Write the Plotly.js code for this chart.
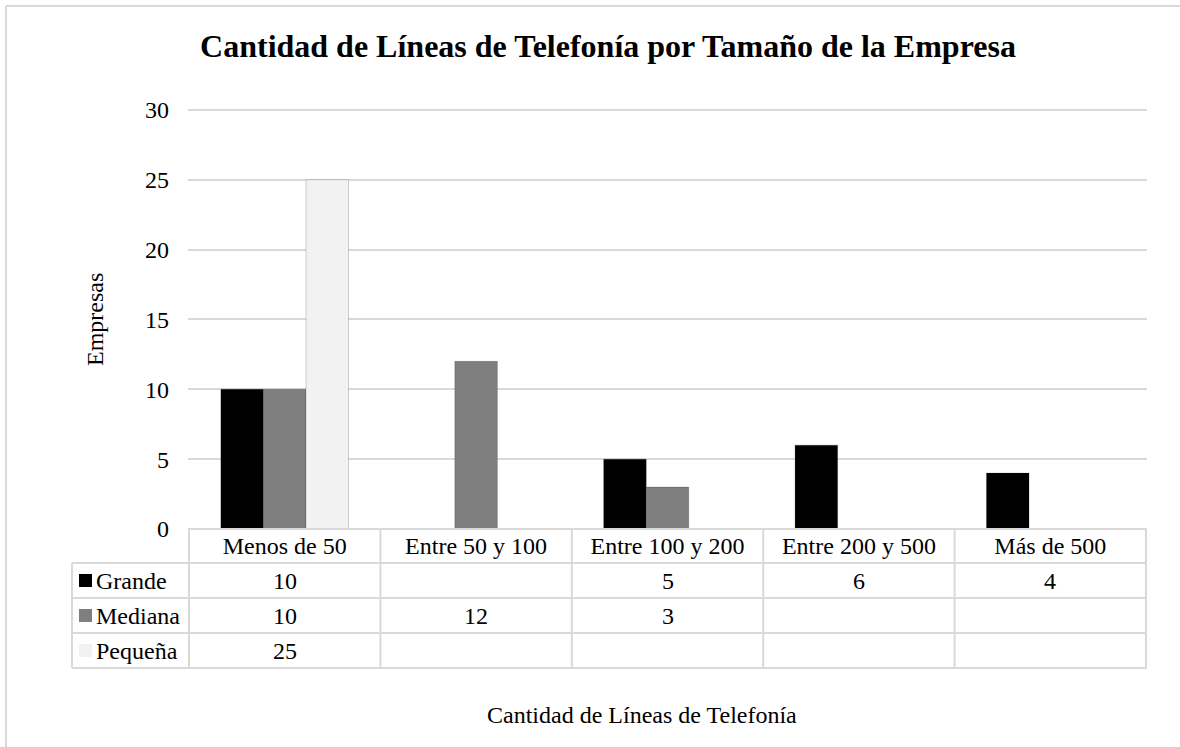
<!DOCTYPE html>
<html>
<head>
<meta charset="utf-8">
<script src="https://cdn.plot.ly/plotly-3.0.1.min.js"></script>
<style>
  html, body { margin: 0; padding: 0; background: #fff; }
  #chart { width: 1180px; height: 747px; }
</style>
</head>
<body>
<div id="chart"></div>
<script>
var categories = ['Menos de 50', 'Entre 50 y 100', 'Entre 100 y 200', 'Entre 200 y 500', 'Más de 500'];
var seriesNames = ['Grande', 'Mediana', 'Pequeña'];
var grande = [10, null, 5, 6, 4];
var mediana = [10, 12, 3, null, null];
var pequena = [25, null, null, null, null];
var seriesColors = ['#000000', '#7f7f7f', '#f2f2f2'];
var yTicks = [0, 5, 10, 15, 20, 25, 30];

var serif = 'Liberation Serif, Times New Roman, serif';
var gridColor = '#d9d9d9';
var fs = 24;

// plot area in pixels (top padded a little so the 30 gridline is drawn)
var L = 188, R = 33, T = 107, B = 218, W = 1180, H = 747;
var pw = W - L - R, ph = H - T - B;
function px(x) { return (x - L) / pw; }
function py(y) { return (H - B - y) / ph; }

var seriesValues = [grande, mediana, pequena];

var data = seriesValues.map(function(vals, i) {
    return {
        type: 'bar',
        name: seriesNames[i],
        x: categories,
        y: vals,
        marker: {
            color: seriesColors[i],
            line: {color: 'rgba(0,0,0,0.18)', width: 1}
        },
        hoverinfo: 'x+y+name'
    };
});

// data table below the axis
var rowTops = [563, 598, 633];
var rowH = 35;
var shapes = [];
var annotations = [];

function hline(y, x0px, x1px) {
    shapes.push({type: 'line', xref: 'paper', yref: 'paper',
        x0: px(x0px), x1: px(x1px), y0: py(y), y1: py(y),
        line: {color: gridColor, width: 2}});
}
hline(529, L, W - R);
rowTops.forEach(function(t) { hline(t, 72, W - R); });
hline(rowTops[2] + rowH, 72, W - R);

// column dividers from the category scale
for (var c = 0; c <= categories.length; c++) {
    shapes.push({type: 'line', xref: 'x', yref: 'paper',
        x0: c - 0.5, x1: c - 0.5, y0: py(529), y1: py(rowTops[2] + rowH),
        line: {color: gridColor, width: 2}});
}
shapes.push({type: 'line', xref: 'paper', yref: 'paper',
    x0: px(72), x1: px(72), y0: py(563), y1: py(rowTops[2] + rowH),
    line: {color: gridColor, width: 2}});

seriesValues.forEach(function(vals, i) {
    var mid = rowTops[i] + rowH / 2;
    // legend key
    shapes.push({type: 'rect', xref: 'paper', yref: 'paper',
        x0: px(79), x1: px(92), y0: py(mid - 6.5), y1: py(mid + 6.5),
        fillcolor: seriesColors[i], line: {width: 0}});
    annotations.push({xref: 'paper', yref: 'paper', x: px(94), y: py(mid),
        xanchor: 'left', yanchor: 'middle', showarrow: false,
        text: seriesNames[i], font: {family: serif, size: fs, color: '#000'}});
    vals.forEach(function(v, j) {
        if (v === null) return;
        annotations.push({xref: 'x', yref: 'paper', x: categories[j], y: py(mid),
            xanchor: 'center', yanchor: 'middle', showarrow: false,
            text: String(v), font: {family: serif, size: fs, color: '#000'}});
    });
});

// axis titles
annotations.push({xref: 'paper', yref: 'paper', x: px(642), y: py(715),
    xanchor: 'center', yanchor: 'middle', showarrow: false,
    text: 'Cantidad de Líneas de Telefonía',
    font: {family: serif, size: fs, color: '#000'}});
annotations.push({xref: 'paper', yref: 'paper', x: px(95), y: py(320),
    xanchor: 'center', yanchor: 'middle', showarrow: false, textangle: -90,
    text: 'Empresas',
    font: {family: serif, size: fs, color: '#000'}});

// outer chart border (left and top edges)
shapes.push({type: 'line', xref: 'paper', yref: 'paper',
    x0: px(6), x1: px(6), y0: py(6), y1: py(H + 10),
    line: {color: gridColor, width: 2}});
shapes.push({type: 'line', xref: 'paper', yref: 'paper',
    x0: px(6), x1: px(W + 10), y0: py(6), y1: py(6),
    line: {color: gridColor, width: 2}});

var layout = {
    width: W,
    height: H,
    margin: {l: L, r: R, t: T, b: B},
    paper_bgcolor: '#fff',
    plot_bgcolor: '#fff',
    showlegend: false,
    barmode: 'group',
    bargap: 0.333,
    bargroupgap: 0,
    title: {
        text: '<b>Cantidad de Líneas de Telefonía por Tamaño de la Empresa</b>',
        font: {family: serif, size: 32, color: '#000'},
        x: 608 / W, xanchor: 'center',
        y: 1 - 46 / H, yanchor: 'middle'
    },
    font: {family: serif, size: fs, color: '#000'},
    xaxis: {
        type: 'category',
        showgrid: false,
        zeroline: false,
        showline: false,
        ticks: '',
        tickfont: {family: serif, size: fs, color: '#000'},
        automargin: false
    },
    yaxis: {
        range: [0, 30.2],
        tickvals: yTicks,
        showgrid: true,
        gridcolor: gridColor,
        gridwidth: 2,
        zeroline: false,
        showline: false,
        ticks: '',
        ticklabelstandoff: 18,
        tickfont: {family: serif, size: fs, color: '#000'},
        automargin: false
    },
    shapes: shapes,
    annotations: annotations
};

Plotly.newPlot('chart', data, layout, {displayModeBar: false, staticPlot: true});
</script>
</body>
</html>
